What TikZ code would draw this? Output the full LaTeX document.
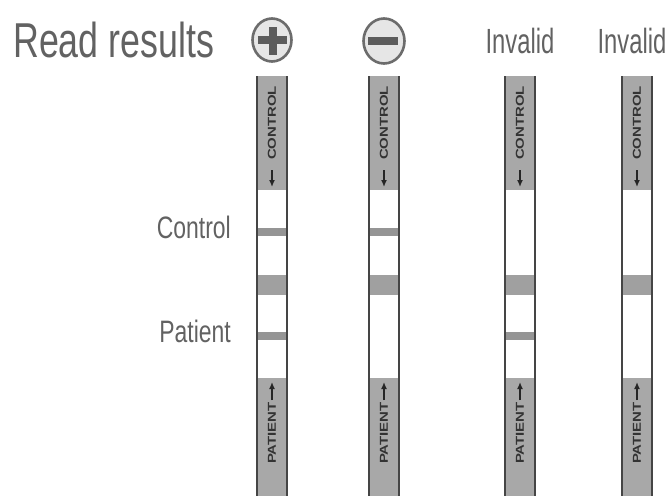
\documentclass[tikz,border=0pt]{standalone}
\usepackage{fontspec}
\setmainfont{Liberation Sans}
\newfontfamily\condA[FakeStretch=0.73]{Liberation Sans}
\newfontfamily\condB[FakeStretch=0.68]{Liberation Sans}
\newfontfamily\condC[FakeStretch=0.74]{Liberation Sans}
\newfontfamily\stripfont[FakeStretch=1.3]{Liberation Sans Bold}
\usetikzlibrary{arrows.meta}
\definecolor{txtgray}{HTML}{626262}
\definecolor{stripgray}{HTML}{A8A8A8}
\definecolor{bandgray}{HTML}{A0A0A0}
\definecolor{linegray}{HTML}{959595}
\definecolor{bordergray}{HTML}{454545}
\definecolor{iconfill}{HTML}{E6E6E6}
\definecolor{icondark}{HTML}{5C5C5C}
\begin{document}
\begin{tikzpicture}[x=1pt,y=-1pt,
  heading/.style={inner sep=0pt, text=txtgray},
  striptext/.style={inner sep=0pt, text=black!80, font=\stripfont\fontsize{11.5}{11.5}\selectfont, rotate=90},
  stripborder/.style={draw=bordergray, line width=1.8pt},
  striparrow/.style={draw=black!85, line width=1.8pt, -{Latex[length=7pt,width=6pt]}},
  iconcircle/.style={draw=icondark!90, fill=iconfill, line width=2.6pt}]
\useasboundingbox (0,0) rectangle (671,495);

% headings
\node[heading, anchor=base west, font=\condA\fontsize{49}{49}\selectfont] (title) at (13,57) {Read results};
\node[heading, anchor=base, font=\condB\fontsize{35}{35}\selectfont] (inv1) at (520,53) {Invalid};
\node[heading, anchor=base, font=\condB\fontsize{35}{35}\selectfont] (inv2) at (632,53) {Invalid};
\node[heading, anchor=base east, font=\condC\fontsize{31}{31}\selectfont] (ctl) at (231,238) {Control};
\node[heading, anchor=base east, font=\condC\fontsize{31}{31}\selectfont] (pat) at (231,342) {Patient};

% plus icon
\draw[iconcircle] (272,40) ellipse [x radius=19.5, y radius=21.5];
\fill[icondark] (258,36.5) rectangle (287,44.5);
\fill[icondark] (268.5,27) rectangle (276.5,55);
% minus icon
\draw[iconcircle] (384,41) ellipse [x radius=20.5, y radius=22.5];
\fill[icondark] (368,37) rectangle (398,45);

% strips: left x, control line (1/0), patient line (1/0)
\foreach \L/\c/\p [count=\i] in {257/1/1, 369/1/0, 505/0/1, 622/0/0}{
  \fill[stripgray] (\L,76) rectangle (\L+30,190);
  \fill[stripgray] (\L,378) rectangle (\L+30,500);
  \fill[bandgray] (\L,275) rectangle (\L+30,295);
  \ifnum\c=1 \fill[linegray] (\L,228) rectangle (\L+30,236); \fi
  \ifnum\p=1 \fill[linegray] (\L,332) rectangle (\L+30,340); \fi
  \draw[stripborder] (\L,76) -- (\L,496);
  \draw[stripborder] (\L+30,76) -- (\L+30,496);
  \node[striptext] (c\i) at (\L+15,123) {CONTROL};
  \coordinate (ca\i) at (\L+15,170);
  \coordinate (cb\i) at (\L+15,187);
  \draw[striparrow] (ca\i) -- (cb\i);
  \node[striptext] (p\i) at (\L+15,433) {PATIENT};
  \coordinate (pa\i) at (\L+15,400);
  \coordinate (pb\i) at (\L+15,382);
  \draw[striparrow] (pa\i) -- (pb\i);
}
\end{tikzpicture}
\end{document}
